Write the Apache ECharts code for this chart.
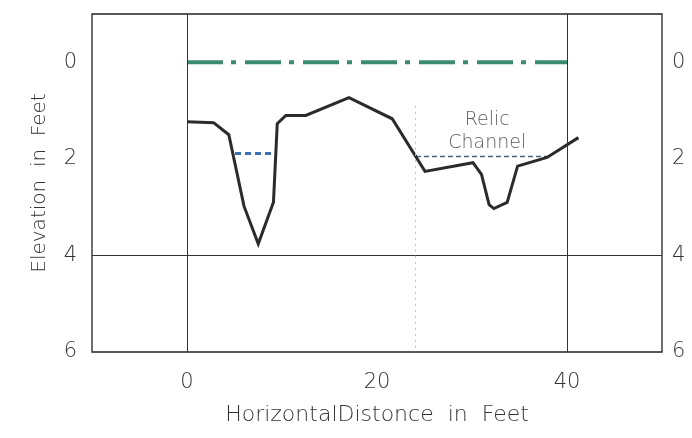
<!DOCTYPE html>
<html>
<head>
<meta charset="utf-8">
<script src="https://cdn.jsdelivr.net/npm/echarts@6/dist/echarts.min.js"></script>
<style>
  html, body { margin: 0; padding: 0; background: #fff; }
  #chart { width: 692px; height: 438px; }
</style>
</head>
<body>
<div id="chart"></div>
<script>
// Ground profile across the stream (distance ft, elevation ft below datum)
const profileX = [0, 2.8, 4.4, 6.0, 7.5, 9.1, 9.5, 10.4, 12.5, 17.05, 21.6, 25.05, 30.1, 31.0, 31.8, 32.3, 33.7, 34.8, 37.9, 41.2];
const profileY = [1.23, 1.25, 1.5, 2.98, 3.76, 2.9, 1.27, 1.1, 1.1, 0.73, 1.17, 2.26, 2.08, 2.32, 2.95, 3.03, 2.9, 2.15, 1.97, 1.56];

// Datum / water surface line
const datumX = [0, 40];
const datumY = [0, 0];

// Water level in the active channel
const poolX = [5.05, 9.26];
const poolY = [1.89, 1.89];

// Water level in the relic channel
const relicX = [24.1, 38];
const relicY = [1.95, 1.95];

// Annotation
const relicLabel = { x: 31.6, y: 1.44, text: 'Relic\nChannel' };

// Axis ticks that carry labels
const xTickLabels = [0, 20, 40];
const yTickLabels = [0, 2, 4, 6];

const zip = (xs, ys) => xs.map((x, i) => [x, ys[i]]);

const FONT = 'DejaVu Sans';
const WEIGHT = 200;
const GRAY = '#333';

const chart = echarts.init(document.getElementById('chart'), null, { renderer: 'canvas' });

const yAxisBase = {
  type: 'value',
  inverse: true,
  min: -1,
  max: 6,
  interval: 1,
  axisLine: { show: false },
  axisTick: { show: false },
  splitLine: { show: false },
  axisLabel: {
    color: GRAY,
    fontFamily: FONT,
    fontWeight: WEIGHT,
    fontSize: 21,
    formatter: v => (yTickLabels.includes(v) ? String(v) : '')
  }
};

chart.setOption({
  animation: false,
  backgroundColor: '#fff',
  grid: {
    left: 92, right: 30, top: 14, bottom: 86,
    show: true,
    borderColor: '#222',
    borderWidth: 1.3,
    backgroundColor: 'transparent'
  },
  xAxis: {
    type: 'value',
    min: -10,
    max: 50,
    interval: 10,
    name: 'HorizontalDistonce  in  Feet',
    nameLocation: 'middle',
    nameGap: 52,
    nameTextStyle: { color: GRAY, fontFamily: FONT, fontWeight: WEIGHT, fontSize: 22 },
    axisLine: { show: false },
    axisTick: { show: false },
    splitLine: { show: false },
    axisLabel: {
      color: GRAY,
      fontFamily: FONT,
      fontWeight: WEIGHT,
      fontSize: 21,
      margin: 20,
      formatter: v => (xTickLabels.includes(v) ? String(v) : '')
    }
  },
  yAxis: [
    Object.assign({}, yAxisBase, {
      position: 'left',
      name: 'Elevation  in  Feet',
      nameLocation: 'middle',
      nameGap: 42,
      nameTextStyle: { color: GRAY, fontFamily: FONT, fontWeight: WEIGHT, fontSize: 20 },
      axisLabel: Object.assign({}, yAxisBase.axisLabel, { margin: 15 })
    }),
    Object.assign({}, yAxisBase, {
      position: 'right',
      axisLabel: Object.assign({}, yAxisBase.axisLabel, { margin: 10 })
    })
  ],
  series: [
    {
      // reference grid lines
      type: 'line',
      data: [],
      silent: true,
      markLine: {
        symbol: 'none',
        silent: true,
        label: { show: false },
        data: [
          { xAxis: 0, lineStyle: { color: '#333', width: 1, type: 'solid' } },
          { xAxis: 40, lineStyle: { color: '#333', width: 1, type: 'solid' } },
          { yAxis: 4, lineStyle: { color: '#333', width: 1, type: 'solid' } },
          [
            { coord: [24, 0.9], lineStyle: { color: '#b8c2c6', width: 1, type: [2, 4] } },
            { coord: [24, 6] }
          ]
        ]
      }
    },
    {
      name: 'datum',
      type: 'line',
      data: zip(datumX, datumY),
      symbol: 'none',
      lineStyle: { color: '#3b8b70', width: 4, type: [36, 8, 5, 9], cap: 'butt' },
      z: 3
    },
    {
      name: 'pool',
      type: 'line',
      data: zip(poolX, poolY),
      symbol: 'none',
      lineStyle: { color: '#3d6fb3', width: 3, type: [6, 4] },
      z: 3
    },
    {
      name: 'relic',
      type: 'line',
      data: zip(relicX, relicY),
      symbol: 'none',
      lineStyle: { color: '#4a6478', width: 1.5, type: [5, 3] },
      z: 3
    },
    {
      name: 'profile',
      type: 'line',
      data: zip(profileX, profileY),
      symbol: 'none',
      lineStyle: { color: '#2b2b2b', width: 3, join: 'miter' },
      z: 4
    },
    {
      name: 'label',
      type: 'scatter',
      data: [[relicLabel.x, relicLabel.y]],
      symbolSize: 0,
      silent: true,
      label: {
        show: true,
        position: 'inside',
        formatter: relicLabel.text,
        color: GRAY,
        fontFamily: FONT,
        fontWeight: WEIGHT,
        fontSize: 19,
        lineHeight: 23,
        align: 'center',
        verticalAlign: 'middle'
      },
      z: 5
    }
  ]
});
</script>
</body>
</html>
